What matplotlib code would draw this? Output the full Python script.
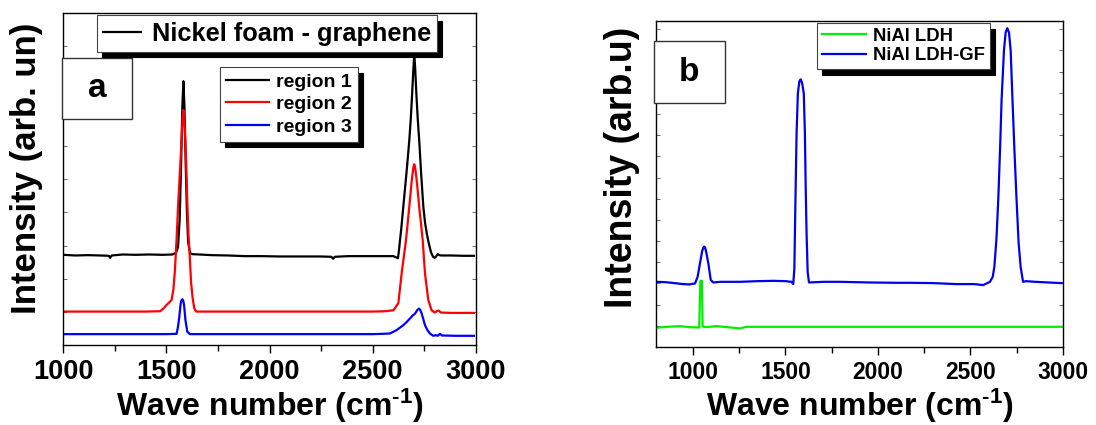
import matplotlib
matplotlib.use("Agg")
import matplotlib.pyplot as plt
from matplotlib.lines import Line2D
from matplotlib.patches import Rectangle
from matplotlib.ticker import MultipleLocator, NullFormatter

plt.rcParams['font.family'] = ['Liberation Sans', 'DejaVu Sans']
plt.rcParams['font.weight'] = 'bold'
plt.rcParams['mathtext.fontset'] = 'custom'
plt.rcParams['mathtext.rm'] = 'Liberation Sans:bold'
plt.rcParams['mathtext.it'] = 'Liberation Sans:bold'
plt.rcParams['mathtext.bf'] = 'Liberation Sans:bold'

# (a) Raman spectra of nickel foam - graphene, three regions (offset, arb. units)
wn_r1 = [1000, 1060, 1120, 1180, 1222, 1228, 1236, 1290, 1350, 1420, 1480, 1530,
         1547, 1557, 1565, 1572, 1578, 1583, 1588, 1594, 1600, 1606, 1615, 1625,
         1660, 1720, 1800, 1880, 1960, 2050, 2150, 2250, 2300, 2308, 2316, 2380,
         2460, 2540, 2600, 2622, 2626, 2631, 2638, 2648, 2656, 2665, 2677, 2684,
         2691, 2697, 2701, 2705, 2711, 2718, 2725, 2735, 2745, 2753, 2762, 2772,
         2782, 2792, 2800, 2808, 2815, 2823, 2830, 2880, 2940, 2990]
int_r1 = [27.2, 27.0, 27.1, 27.0, 26.9, 26.3, 27.0, 27.3, 27.2, 27.3, 27.2, 27.3,
          27.8, 29.5, 38.0, 55.0, 72.0, 79.5, 72.0, 55.0, 40.0, 31.0, 27.8, 27.4,
          27.3, 27.1, 27.0, 26.8, 26.8, 26.7, 26.7, 26.7, 26.6, 26.0, 26.6, 26.8,
          26.8, 26.8, 26.8, 26.2, 28.0, 31.0, 35.0, 41.7, 47.0, 53.0, 61.7, 68.0,
          76.0, 83.5, 87.3, 84.0, 76.0, 68.0, 61.7, 51.0, 41.7, 37.0, 33.5, 30.5,
          28.0, 26.6, 26.3, 26.8, 27.4, 27.1, 27.0, 27.0, 26.9, 26.9]

wn_r2 = [1000, 1100, 1200, 1300, 1400, 1470, 1486, 1500, 1510, 1526, 1535, 1542,
         1550, 1558, 1566, 1575, 1579, 1583, 1587, 1592, 1597, 1602, 1608, 1614,
         1620, 1628, 1636, 1645, 1700, 1800, 1900, 2000, 2100, 2200, 2300, 2400,
         2500, 2560, 2600, 2624, 2640, 2661, 2677, 2688, 2696, 2701, 2706, 2714,
         2725, 2742, 2753, 2769, 2785, 2800, 2812, 2820, 2830, 2880, 2940, 2990]
int_r2 = [10.1, 10.1, 10.1, 10.1, 10.1, 10.2, 11.0, 12.0, 12.6, 13.6, 17.0, 22.6,
          32.0, 42.7, 52.0, 62.7, 68.5, 70.8, 68.5, 62.0, 54.0, 42.7, 33.0, 26.6,
          19.0, 14.0, 11.0, 10.1, 10.1, 10.1, 10.1, 10.1, 10.1, 10.1, 10.1, 10.1,
          10.1, 10.2, 10.5, 12.6, 21.6, 31.6, 41.7, 49.0, 53.3, 54.5, 53.3, 49.0,
          41.7, 31.6, 21.6, 13.6, 10.5, 9.8, 10.3, 10.4, 9.8, 9.7, 9.7, 9.7]

wn_r3 = [1000, 1100, 1200, 1300, 1400, 1500, 1550, 1557, 1563, 1570, 1574, 1578,
         1582, 1586, 1593, 1602, 1615, 1700, 1800, 1900, 2000, 2100, 2200, 2300,
         2400, 2500, 2550, 2583, 2615, 2648, 2665, 2680, 2692, 2705, 2715, 2724,
         2730, 2737, 2745, 2753, 2765, 2777, 2793, 2805, 2815, 2826, 2835, 2900, 2990]
int_r3 = [3.3, 3.3, 3.3, 3.3, 3.3, 3.3, 3.4, 5.5, 8.5, 12.6, 13.5, 13.8,
          13.4, 12.2, 7.5, 4.0, 3.3, 3.3, 3.3, 3.3, 3.3, 3.3, 3.3, 3.3,
          3.3, 3.3, 3.4, 3.5, 4.5, 6.0, 7.0, 8.0, 8.8, 9.5, 10.5, 11.0,
          10.6, 9.5, 7.8, 6.0, 4.5, 3.5, 2.8, 3.0, 2.8, 3.4, 2.9, 2.8, 2.8]

# (b) NiAl LDH and NiAl LDH-GF
wn_ldh = [800, 860, 930, 980, 1020, 1034, 1040, 1049, 1052, 1070, 1128, 1200,
          1254, 1290, 1500, 2000, 2500, 3000]
int_ldh = [5.9, 6.2, 6.4, 6.1, 6.0, 6.0, 20.3, 20.3, 6.3, 6.1, 6.4, 6.0,
           5.7, 6.2, 6.2, 6.2, 6.2, 6.2]

wn_gf = [800, 850, 900, 946, 980, 1011, 1025, 1038, 1050, 1056, 1061, 1066,
         1072, 1083, 1096, 1110, 1150, 1254, 1350, 1434, 1500, 1533, 1542, 1548,
         1551, 1556, 1560, 1567, 1575, 1582, 1590, 1599, 1605, 1609, 1614, 1620,
         1627, 1705, 1800, 1950, 2100, 2173, 2300, 2425, 2520, 2569, 2605, 2620,
         2629, 2640, 2650, 2660, 2668, 2681, 2690, 2699, 2708, 2717, 2727, 2737,
         2749, 2760, 2771, 2784, 2800, 2850, 2920, 2993]
int_gf = [20.0, 19.9, 19.6, 19.3, 19.2, 19.5, 21.5, 25.7, 29.5, 30.5, 30.8, 30.5,
          29.0, 25.7, 20.6, 19.8, 20.0, 20.0, 20.2, 20.3, 20.2, 20.0, 19.3, 24.0,
          34.9, 52.0, 65.5, 77.8, 81.5, 82.1, 81.0, 77.8, 65.5, 50.0, 34.9, 23.0,
          19.8, 20.0, 20.0, 19.8, 19.7, 19.7, 19.6, 19.3, 19.3, 19.0, 20.0, 21.5,
          24.6, 33.0, 45.1, 61.0, 75.8, 91.1, 96.5, 97.8, 96.5, 91.1, 75.8, 61.0,
          45.1, 32.0, 24.6, 20.0, 20.2, 20.0, 19.8, 19.6]

fig = plt.figure(figsize=(10.96, 4.25), dpi=100)
ax1 = fig.add_axes([0.0575, 0.188, 0.3768, 0.781])
ax2 = fig.add_axes([0.5985, 0.1835, 0.3714, 0.767])

lw = 1.6
ax1.plot(wn_r1, int_r1, color='black', lw=lw, label='region 1')
ax1.plot(wn_r2, int_r2, color='#ff0000', lw=lw, label='region 2')
ax1.plot(wn_r3, int_r3, color='#0000ff', lw=lw, label='region 3')

ax2.plot(wn_ldh, int_ldh, color='#00ee00', lw=lw, label='NiAl LDH')
ax2.plot(wn_gf, int_gf, color='#0000ee', lw=lw, label='NiAl LDH-GF')

ax1.set_xlim(1000, 3000)
ax1.set_ylim(0, 100)
ax2.set_xlim(800, 3000)
ax2.set_ylim(0, 100)

for ax, ystep, tsize in [(ax1, 10, 19.5), (ax2, 6.5, 16.5)]:
    ax.xaxis.set_major_locator(MultipleLocator(500))
    ax.xaxis.set_minor_locator(MultipleLocator(250))
    ax.yaxis.set_major_locator(MultipleLocator(ystep))
    ax.yaxis.set_major_formatter(NullFormatter())
    ax.tick_params(axis='x', which='major', direction='out', length=6, width=1,
                   labelsize=tsize, pad=4)
    ax.tick_params(axis='x', which='minor', direction='out', length=4, width=1)
    ax.tick_params(axis='y', which='major', direction='in', length=3, width=0.6,
                   left=True, right=True, color='#555555')
    for lab in ax.get_xticklabels():
        lab.set_fontweight('bold')
    for sp in ax.spines.values():
        sp.set_linewidth(1.0)

# x labels sit on their baseline so the superscript does not push them down
xlab = r'Wave number (cm$^{\text{-1}}$)'
ax1.set_xlabel(xlab, fontsize=23, fontweight='bold', va='baseline')
ax1.xaxis.set_label_coords(0.5, -0.214)
ax1.set_ylabel('Intensity (arb. un)', fontsize=25, fontweight='bold')
ax1.yaxis.set_label_coords(-0.048, 0.532)

ax2.set_xlabel(xlab, fontsize=23, fontweight='bold', va='baseline')
ax2.xaxis.set_label_coords(0.5, -0.213)
ax2.set_ylabel('Intensity (arb.u)', fontsize=27, fontweight='bold')
ax2.yaxis.set_label_coords(-0.039, 0.551)


def shadow():
    return {'color': 'black', 'alpha': 1, 'ox': 3.5, 'oy': -4}


# sample legend naming the material, placed in panel (a) coordinates
leg_top = fig.legend(handles=[Line2D([], [], color='black', lw=lw)],
                     labels=['Nickel foam - graphene'],
                     loc='upper left', bbox_to_anchor=(0.082, 0.994),
                     bbox_transform=ax1.transAxes,
                     borderaxespad=0, fancybox=False, shadow=shadow(),
                     edgecolor='#444444', framealpha=1, handlelength=1.5,
                     handletextpad=0.4, borderpad=0.25,
                     prop={'size': 18.3, 'weight': 'bold'})
leg_top.get_frame().set_linewidth(0.8)

leg1 = ax1.legend(loc='upper left', bbox_to_anchor=(0.380, 0.837),
                  borderaxespad=0, fancybox=False, shadow=shadow(),
                  edgecolor='#444444', framealpha=1, handlelength=2.2,
                  handletextpad=0.4, borderpad=0.3, labelspacing=0.25,
                  prop={'size': 14, 'weight': 'bold'})
leg1.get_frame().set_linewidth(0.8)

leg2 = ax2.legend(loc='upper left', bbox_to_anchor=(0.396, 0.994),
                  borderaxespad=0, fancybox=False, shadow=shadow(),
                  edgecolor='#444444', framealpha=1, handlelength=2.4,
                  handletextpad=0.4, borderpad=0.25, labelspacing=0.15,
                  prop={'size': 13.3, 'weight': 'bold'})
leg2.get_frame().set_linewidth(0.8)

# panel letters in boxes
for ax, x0, y0, w, h, letter in [(ax1, -0.002, 0.681, 0.169, 0.183, 'a'),
                                 (ax2, -0.005, 0.748, 0.174, 0.191, 'b')]:
    ax.add_patch(Rectangle((x0, y0), w, h, transform=ax.transAxes,
                           facecolor='white', edgecolor='#333333', lw=1.0,
                           zorder=5, clip_on=False))
    ax.text(x0 + w / 2, y0 + h / 2, letter, transform=ax.transAxes,
            fontsize=24, fontweight='bold', ha='center', va='center', zorder=6)

fig.savefig('out.png', dpi=100)
